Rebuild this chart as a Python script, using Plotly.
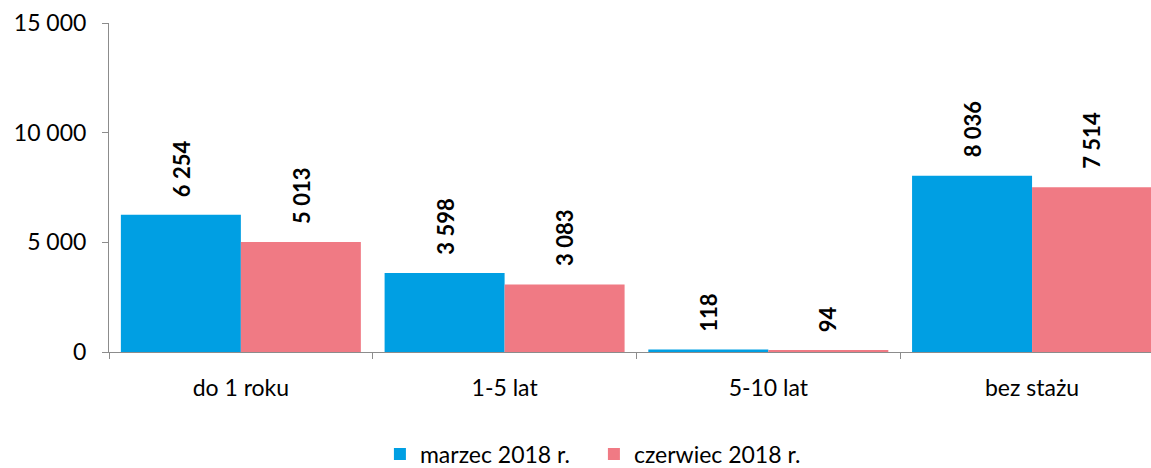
import plotly.graph_objects as go

categories = ["do 1 roku", "1-5 lat", "5-10 lat", "bez stażu"]
marzec = [6254, 3598, 118, 8036]
czerwiec = [5013, 3083, 94, 7514]
series_names = ["marzec 2018 r.", "czerwiec 2018 r."]
y_ticks = [0, 5000, 10000, 15000]

def fmt(v):
    return f"{v:,}".replace(",", " ")

FONT = "Lato"
COLORS = ["#009FE3", "#F07A84"]
fig = go.Figure()
for i, (name, vals) in enumerate([(series_names[0], marzec), (series_names[1], czerwiec)]):
    fig.add_trace(go.Bar(
        name=name, x=categories, y=vals, marker=dict(color=COLORS[i], line=dict(width=0)),
        hoverinfo="x+y",
    ))
    shift = -60 if i == 0 else 60
    for c, v in zip(categories, vals):
        fig.add_annotation(
            x=c, y=v, xref="x", yref="y", text=fmt(v), showarrow=False,
            textangle=-90, xanchor="center", yanchor="bottom", xshift=shift, yshift=16,
            font=dict(family=FONT, size=22, color="#000000", weight="bold"),
        )

fig.update_layout(
    width=1151, height=468,
    margin=dict(l=109, r=0, t=23, b=116, autoexpand=False),
    paper_bgcolor="white", plot_bgcolor="white",
    barmode="group", bargap=0.09, bargroupgap=0,
    font=dict(family=FONT, size=23, color="#000000"),
    showlegend=True,
    legend=dict(orientation="h", xref="container", yref="container", x=0.516, y=14 / 468,
                xanchor="center", yanchor="middle", font=dict(size=23),
                traceorder="normal", entrywidth=169, entrywidthmode="pixels"),
)
fig.update_xaxes(
    type="category", range=[-0.5, 3.451], showline=True, linecolor="#8C8C8C", linewidth=1,
    ticks="outside", tickson="boundaries", ticklen=6, tickcolor="#8C8C8C",
    showgrid=False, ticklabelstandoff=15, zeroline=False, automargin=False,
    tickfont=dict(size=23),
)
fig.update_yaxes(
    range=[0, 15000], tickvals=y_ticks, ticktext=[fmt(v) for v in y_ticks],
    showline=True, linecolor="#8C8C8C", linewidth=1, ticks="outside", ticklen=6,
    tickcolor="#8C8C8C", showgrid=False, zeroline=False, ticklabelstandoff=11,
    automargin=False, tickfont=dict(size=23),
)
fig.write_html("out.html", config={"displayModeBar": False},
               post_script="document.body.style.margin='0';")
